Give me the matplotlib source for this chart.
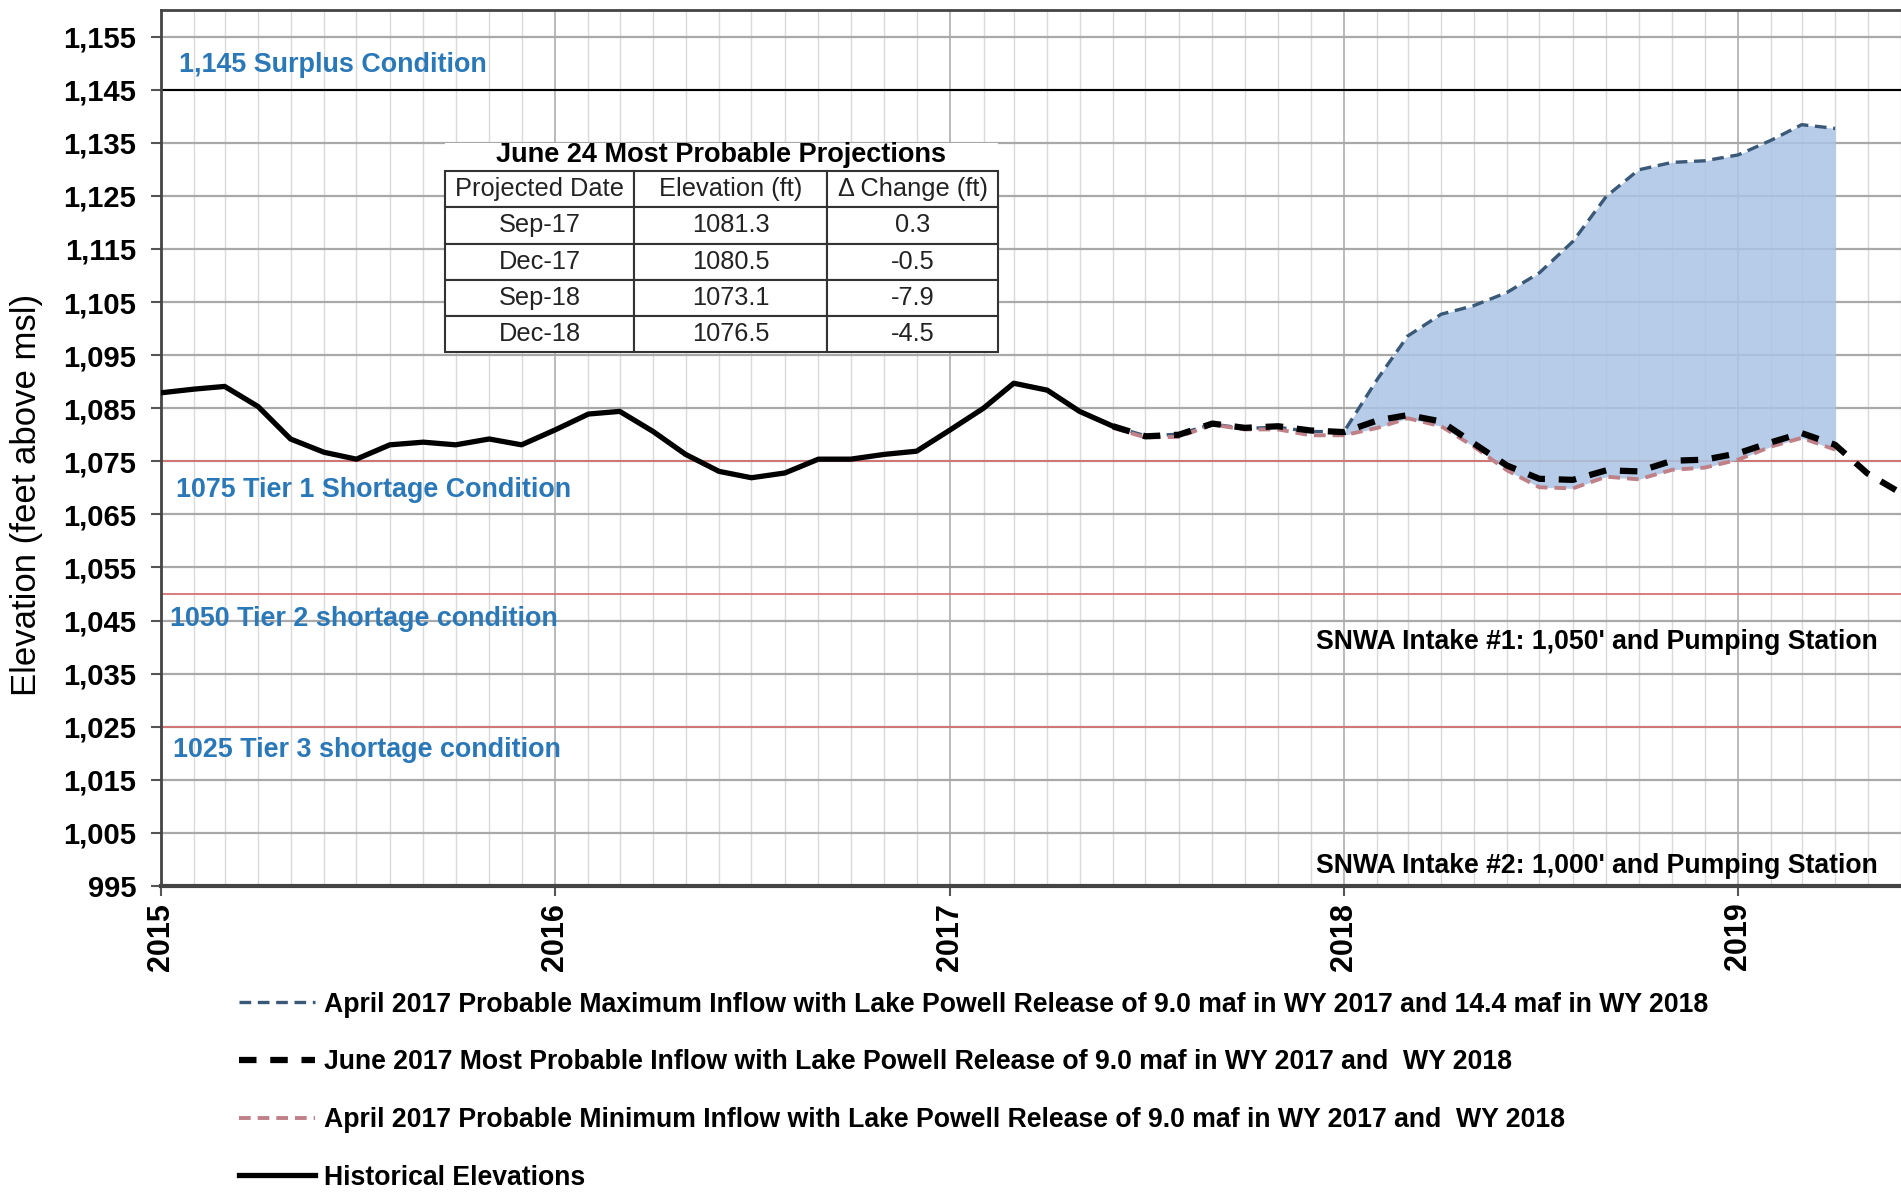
import matplotlib
matplotlib.use("Agg")
import matplotlib.pyplot as plt
import matplotlib.dates as mdates
from matplotlib import font_manager
from matplotlib.lines import Line2D
from matplotlib.patches import Rectangle
import pandas as pd

# Historical month-end elevations (plotted at the first of the following month)
hist_dates = pd.date_range("2015-01-01", "2017-06-01", freq="MS")
hist_elev = [1087.9, 1088.6, 1089.1, 1085.3, 1079.2, 1076.7, 1075.4, 1078.1, 1078.6, 1078.1,
             1079.2, 1078.1, 1080.9, 1083.9, 1084.4, 1080.6, 1076.3, 1073.1, 1071.9, 1072.8,
             1075.4, 1075.4, 1076.3, 1076.9, 1080.9, 1085.0, 1089.7, 1088.4, 1084.4, 1081.6]

most_dates = pd.date_range("2017-06-01", "2019-06-01", freq="MS")
most_elev = [1081.6, 1079.7, 1080.0, 1082.1, 1081.3, 1081.6, 1080.8, 1080.5, 1082.7, 1083.7,
             1082.5, 1078.4, 1074.2, 1071.7, 1071.5, 1073.3, 1073.1, 1075.1, 1075.3, 1076.5,
             1078.6, 1080.3, 1078.1, 1072.7, 1069.0]

range_dates = pd.date_range("2017-06-01", "2019-04-01", freq="MS")
max_elev = [1081.6, 1079.8, 1080.1, 1082.0, 1081.2, 1081.4, 1080.6, 1080.6, 1090.5, 1098.6,
            1102.7, 1104.3, 1106.8, 1110.5, 1116.4, 1124.9, 1129.9, 1131.3, 1131.6, 1132.7,
            1135.5, 1138.4, 1137.7]
min_elev = [1081.3, 1079.5, 1079.6, 1081.9, 1081.0, 1081.0, 1079.9, 1079.9, 1081.3, 1083.1,
            1081.6, 1077.8, 1073.3, 1070.1, 1069.9, 1072.1, 1071.6, 1073.4, 1073.8, 1075.3,
            1077.8, 1079.4, 1077.2]
fill_start = 7  # Jan 2018, where the max and min traces split

# reference levels
levels = [1145, 1075, 1050, 1025]
level_colors = ["black", "#d47272", "#d47272", "#d47272"]
level_labels = ["1,145 Surplus Condition", "1075 Tier 1 Shortage Condition",
                "1050 Tier 2 shortage condition", "1025 Tier 3 shortage condition"]
level_label_y = [1149.7, 1069.6, 1045.2, 1020.6]
level_label_x = [0.0106, 0.0086, 0.0050, 0.0070]

intake_labels = ["SNWA Intake #1: 1,050' and Pumping Station",
                 "SNWA Intake #2: 1,000' and Pumping Station"]
intake_y = [1040.9, 998.8]

table_title = "June 24 Most Probable Projections"
table_cols = ["Projected Date", "Elevation (ft)", "\u0394 Change (ft)"]
table_rows = [["Sep-17", "1081.3", "0.3"],
              ["Dec-17", "1080.5", "-0.5"],
              ["Sep-18", "1073.1", "-7.9"],
              ["Dec-18", "1076.5", "-4.5"]]

legend_labels = [
    "April 2017 Probable Maximum Inflow with Lake Powell Release of 9.0 maf in WY 2017 and 14.4 maf in WY 2018",
    "June 2017 Most Probable Inflow with Lake Powell Release of 9.0 maf in WY 2017 and  WY 2018",
    "April 2017 Probable Minimum Inflow with Lake Powell Release of 9.0 maf in WY 2017 and  WY 2018",
    "Historical Elevations",
]

# fonts: Arial-like, with a narrow face for the legend/table if there is one
names = {f.name for f in font_manager.fontManager.ttflist}
base = "Liberation Sans"
if "Liberation Sans Narrow" in names:
    narrow, nscale = "Liberation Sans Narrow", 1.06
else:
    narrow, nscale = "Liberation Sans", 0.87
plt.rcParams["font.family"] = [base, "DejaVu Sans"]

max_color = "#3a5878"
min_color = "#bf8088"
blue_text = "#2a78b8"

fig = plt.figure(figsize=(19.01, 11.92), dpi=100)
ax = fig.add_axes([0.0847, 0.2567, 0.9153, 0.7349])

ax.set_xlim(pd.Timestamp("2015-01-01"), pd.Timestamp("2019-06-01"))
ax.set_ylim(995, 1160)

ax.xaxis.set_major_locator(mdates.YearLocator())
ax.xaxis.set_major_formatter(mdates.DateFormatter("%Y"))
ax.xaxis.set_minor_locator(mdates.MonthLocator())
ax.set_yticks(range(995, 1156, 10))
ax.yaxis.set_major_formatter(plt.FuncFormatter(lambda v, p: f"{int(v):,}"))

ax.grid(which="minor", axis="x", color="#dadada", lw=1.0)
ax.grid(which="major", axis="x", color="#b4b4b4", lw=1.3)
ax.grid(which="major", axis="y", color="#a9a9a9", lw=1.6)
ax.set_axisbelow(True)

ax.tick_params(axis="y", which="major", length=7, width=1.5, pad=11, labelsize=21,
               color="#555555")
ax.tick_params(axis="x", which="major", length=7, width=1.5, pad=5, labelsize=22,
               color="#555555", labelrotation=90)
ax.tick_params(axis="x", which="minor", length=0)
for lab in ax.get_xticklabels() + ax.get_yticklabels():
    lab.set_fontweight("bold")

for side in ["left", "top"]:
    ax.spines[side].set_color("#444444")
    ax.spines[side].set_linewidth(2)
ax.spines["bottom"].set_color("#444444")
ax.spines["bottom"].set_linewidth(3)
ax.spines["right"].set_visible(False)

# reference levels and their captions
for lv, c in zip(levels, level_colors):
    ax.axhline(lv, color=c, lw=1.5 if c == "black" else 1.3, zorder=1.5)
ytr = ax.get_yaxis_transform()
for txt, x, y in zip(level_labels, level_label_x, level_label_y):
    ax.text(x, y, txt, transform=ytr, color=blue_text, fontsize=19.4, fontweight="bold",
            va="center", ha="left", zorder=3)
for txt, y in zip(intake_labels, intake_y):
    ax.text(0.9865, y, txt, transform=ytr, color="black", fontsize=22 * nscale,
            fontweight="bold", family=narrow, va="center", ha="right", zorder=3)

# projection band
ax.fill_between(range_dates[fill_start:], min_elev[fill_start:], max_elev[fill_start:],
                color="#aac4e4", alpha=0.85, lw=0, zorder=2)

ax.plot(range_dates, max_elev, color=max_color, lw=2.4, dashes=(3.5, 2), zorder=4)
ax.plot(range_dates, min_elev, color=min_color, lw=2.8, dashes=(3, 1.8), zorder=4)
ax.plot(most_dates, most_elev, color="black", lw=4.5, dashes=(2.8, 2.2), zorder=5)
ax.plot(hist_dates, hist_elev, color="black", lw=3.8, solid_joinstyle="round", zorder=6)

# projections table
tx0, ty0, tw, th = 0.1632, 0.6096, 0.3178, 0.2064
ax.add_patch(Rectangle((tx0, ty0), tw, 0.848 - ty0, transform=ax.transAxes,
                       facecolor="white", edgecolor="none", zorder=7))
ax.text(tx0 + tw / 2, 0.834, table_title, transform=ax.transAxes, ha="center", va="center",
        fontsize=22.5 * nscale, fontweight="bold", family=narrow, zorder=8)
tbl = ax.table(cellText=table_rows, colLabels=table_cols, cellLoc="center",
               colWidths=[0.342, 0.349, 0.309], bbox=[tx0, ty0, tw, th], zorder=8)
tbl.auto_set_font_size(False)
for (r, c), cell in tbl.get_celld().items():
    cell.set_edgecolor("#333333")
    cell.set_linewidth(1.5)
    cell.set_facecolor("white")
    cell.get_text().set_fontsize(21 * nscale)
    cell.get_text().set_family(narrow)
    cell.get_text().set_color("#222222")

# y label
fig.text(0.0142, 0.5847, "Elevation (feet above msl)", rotation=90, ha="center", va="center",
         fontsize=25)

# legend below the axes
handles = [
    Line2D([], [], color=max_color, lw=2.4, dashes=(3.5, 2)),
    Line2D([], [], color="black", lw=4.5, dashes=(2.8, 2.2)),
    Line2D([], [], color=min_color, lw=2.8, dashes=(3, 1.8)),
    Line2D([], [], color="black", lw=3.8),
]
fig.legend(handles, legend_labels, loc="upper left", bbox_to_anchor=(0.1257, 0.168),
           frameon=False, borderpad=0, borderaxespad=0, handlelength=2.85,
           handletextpad=0.35, labelspacing=1.19,
           prop={"family": narrow, "weight": "bold", "size": 22 * nscale})

fig.savefig("out.png", dpi=100)
